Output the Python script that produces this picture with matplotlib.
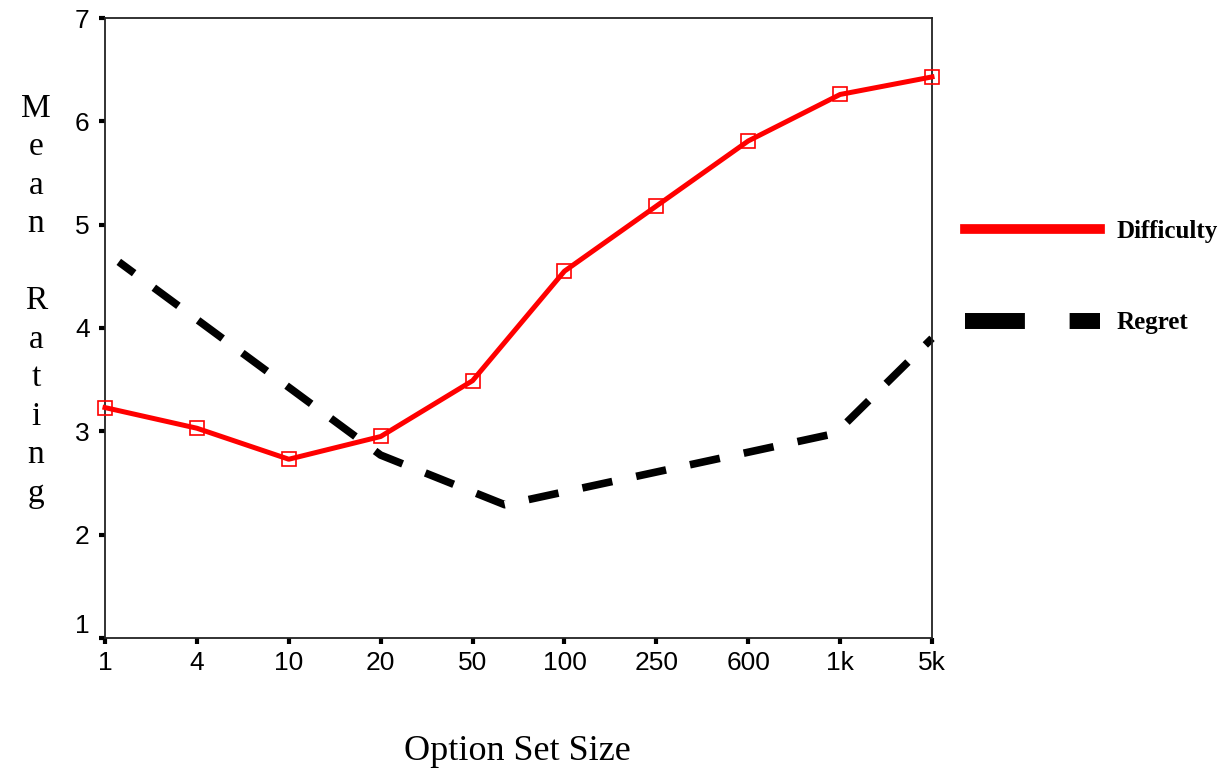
#!/usr/bin/env python
#-*- coding:utf-8 -*-

"""Mean difficulty and regret ratings against option set size.
"""

import matplotlib
matplotlib.use("Agg")
import matplotlib.pyplot as plt
from matplotlib import font_manager
from matplotlib.lines import Line2D


set_sizes = ["1", "4", "10", "20", "50", "100", "250", "600", "1k", "5k"]
difficulty = [3.23, 3.03, 2.73, 2.95, 3.49, 4.55, 5.18, 5.81, 6.26, 6.43]

# regret line is drawn between category positions in the original
regret_pos = [0.15, 3.0, 4.35, 7.95, 9.0]
regret = [4.64, 2.77, 2.29, 2.98, 3.90]

y_ticks = [1, 2, 3, 4, 5, 6, 7]


def pick_font(candidates):
    names = {f.name for f in font_manager.fontManager.ttflist}
    for c in candidates:
        if c in names:
            return c
    return "DejaVu Sans"


if(__name__ == '__main__'):
    tick_font = pick_font(["Liberation Sans Narrow", "DejaVu Sans Condensed", "Liberation Sans"])
    serif = pick_font(["Liberation Serif", "DejaVu Serif"])

    fig = plt.figure(figsize=(12.25, 7.71), dpi=100)
    ax = fig.add_axes([105/1225, 1 - 638/771, 827/1225, 620/771])

    x = list(range(len(set_sizes)))
    ax.plot(x, difficulty, c="#ff0000", lw=3.6, marker="s", ms=10, mfc="none",
            mec="#ff0000", mew=1.2, clip_on=False, zorder=3)
    ax.plot(regret_pos, regret, c="black", lw=5.5, ls=(1.5, (4.0, 3.2)),
            clip_on=False, zorder=2)

    ax.set_xlim(0, len(set_sizes) - 1)
    ax.set_ylim(1, 7)
    ax.set_xticks(x)
    ax.set_xticklabels(set_sizes)
    ax.set_yticks(y_ticks)
    for s in ax.spines.values():
        s.set_linewidth(1.3)
        s.set_color("#222222")
    ax.tick_params(direction="out", length=4, width=3, labelsize=19, pad=5)
    ax.tick_params(axis="y", pad=7)
    for lab in ax.get_xticklabels() + ax.get_yticklabels():
        lab.set_fontfamily(tick_font)
    ax.get_yticklabels()[0].set_va("bottom")

    fig.text(36/1225, 1 - 301/771, "M\ne\na\nn\n\nR\na\nt\ni\nn\ng",
             family=serif, fontsize=24, ha="center", va="center",
             multialignment="center", linespacing=1.34)
    fig.text(517/1225, 1 - 752/771, "Option Set Size", family=serif,
             fontsize=26, ha="center", va="center")

    handles = [
        Line2D([], [], c="#ff0000", lw=7),
        Line2D([], [], c="black", lw=11.5, ls=(0, (3.75, 2.8))),
    ]
    leg = fig.legend(handles, ["Difficulty", "Regret"], loc="center left",
                     bbox_to_anchor=(965/1225, 1 - 277/771), frameon=False,
                     borderpad=0, borderaxespad=0, handlelength=5.4,
                     handletextpad=0.65, labelspacing=2.75,
                     prop={"family": serif, "weight": "bold", "size": 18})

    #plt.show()
    plt.savefig("out.png", dpi=100)
